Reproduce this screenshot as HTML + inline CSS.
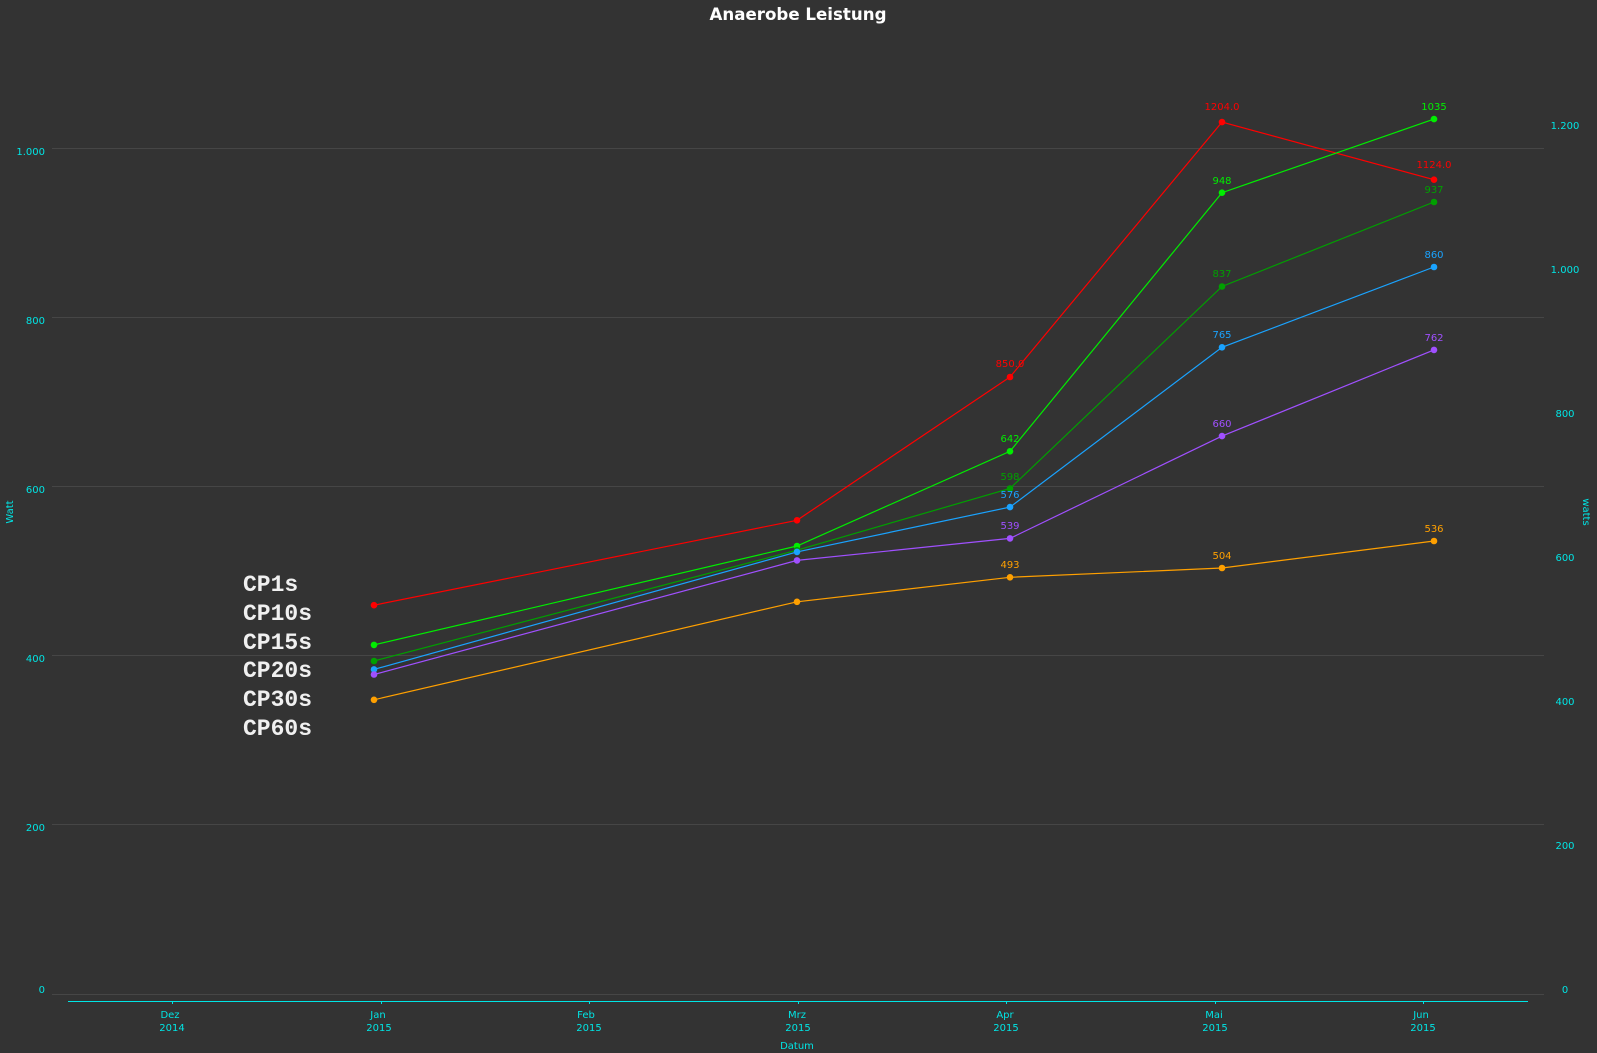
<!DOCTYPE html>
<html><head><meta charset="utf-8"><style>
html,body{margin:0;padding:0;background:#333333;}
svg{display:block;}
</style></head><body>
<svg width="1597" height="1053" viewBox="0 0 1597 1053" xmlns="http://www.w3.org/2000/svg" font-family="'DejaVu Sans', 'Liberation Sans', sans-serif">
<rect width="1597" height="1053" fill="#333333"/>
<text x="798" y="20" text-anchor="middle" fill="#ffffff" font-weight="bold" font-size="17" textLength="177" lengthAdjust="spacingAndGlyphs">Anaerobe Leistung</text>
<g stroke="#464646" stroke-width="1">
<line x1="52" y1="148.5" x2="1544" y2="148.5"/>
<line x1="52" y1="317.5" x2="1544" y2="317.5"/>
<line x1="52" y1="486.5" x2="1544" y2="486.5"/>
<line x1="52" y1="655.5" x2="1544" y2="655.5"/>
<line x1="52" y1="824.5" x2="1544" y2="824.5"/>
<line x1="52" y1="994.5" x2="1544" y2="994.5"/>
</g>
<g fill="#00e5e5" font-size="10" text-anchor="end">
<text x="45" y="155">1.000</text>
<text x="45" y="324">800</text>
<text x="45" y="493">600</text>
<text x="45" y="662">400</text>
<text x="45" y="831">200</text>
<text x="45" y="993">0</text>
</g>
<g fill="#00e5e5" font-size="10" text-anchor="middle">
<text x="1565" y="129">1.200</text>
<text x="1565" y="273">1.000</text>
<text x="1565" y="417">800</text>
<text x="1565" y="561">600</text>
<text x="1565" y="705">400</text>
<text x="1565" y="849">200</text>
<text x="1565" y="993">0</text>
</g>
<text transform="translate(13,512) rotate(-90)" fill="#00e5e5" font-size="10" text-anchor="middle">Watt</text>
<text transform="translate(1583,512) rotate(90)" fill="#00e5e5" font-size="10" text-anchor="middle">watts</text>
<line x1="68" y1="1001.5" x2="1528" y2="1001.5" stroke="#00e5e5" stroke-width="1"/>
<g stroke="#00e5e5">
<line x1="172.5" y1="1001" x2="172.5" y2="1004"/>
<line x1="381.5" y1="1001" x2="381.5" y2="1004"/>
<line x1="589.5" y1="1001" x2="589.5" y2="1004"/>
<line x1="798.5" y1="1001" x2="798.5" y2="1004"/>
<line x1="1006.5" y1="1001" x2="1006.5" y2="1004"/>
<line x1="1215.5" y1="1001" x2="1215.5" y2="1004"/>
<line x1="1423.5" y1="1001" x2="1423.5" y2="1004"/>
</g>
<g fill="#00e5e5" font-size="10" text-anchor="middle">
<text x="170" y="1018">Dez</text><text x="172" y="1031">2014</text>
<text x="378" y="1018">Jan</text><text x="379" y="1031">2015</text>
<text x="586" y="1018">Feb</text><text x="589" y="1031">2015</text>
<text x="797" y="1018">Mrz</text><text x="798" y="1031">2015</text>
<text x="1005" y="1018">Apr</text><text x="1006" y="1031">2015</text>
<text x="1214" y="1018">Mai</text><text x="1215" y="1031">2015</text>
<text x="1421" y="1018">Jun</text><text x="1423" y="1031">2015</text>
<text x="797" y="1049">Datum</text>
</g>
<g fill="none" stroke-width="1.2">
<polyline stroke="#ff0000" points="374,605.2 797,520.3 1010,377 1222,122.1 1434,179.7"/>
<polyline stroke="#00ee00" points="374,644.9 797,546 1010,451.3 1222,192.7 1434,119.1"/>
<polyline stroke="#00a000" points="374,661 797,550.2 1010,488.5 1222,286.5 1434,202"/>
<polyline stroke="#1aa3ff" points="374,669.4 797,551.9 1010,507.1 1222,347.3 1434,267"/>
<polyline stroke="#a050ff" points="374,674.5 797,560.4 1010,538.4 1222,436.1 1434,349.9"/>
<polyline stroke="#ffa000" points="374,699.8 797,601.8 1010,577.3 1222,568 1434,541"/>
</g>
<g fill="#ff0000"><circle cx="374" cy="605.2" r="3.3"/><circle cx="797" cy="520.3" r="3.3"/><circle cx="1010" cy="377" r="3.3"/><circle cx="1222" cy="122.1" r="3.3"/><circle cx="1434" cy="179.7" r="3.3"/></g>
<g fill="#00ee00"><circle cx="374" cy="644.9" r="3.3"/><circle cx="797" cy="546" r="3.3"/><circle cx="1010" cy="451.3" r="3.3"/><circle cx="1222" cy="192.7" r="3.3"/><circle cx="1434" cy="119.1" r="3.3"/></g>
<g fill="#00a000"><circle cx="374" cy="661" r="3.3"/><circle cx="797" cy="550.2" r="3.3"/><circle cx="1010" cy="488.5" r="3.3"/><circle cx="1222" cy="286.5" r="3.3"/><circle cx="1434" cy="202" r="3.3"/></g>
<g fill="#1aa3ff"><circle cx="374" cy="669.4" r="3.3"/><circle cx="797" cy="551.9" r="3.3"/><circle cx="1010" cy="507.1" r="3.3"/><circle cx="1222" cy="347.3" r="3.3"/><circle cx="1434" cy="267" r="3.3"/></g>
<g fill="#a050ff"><circle cx="374" cy="674.5" r="3.3"/><circle cx="797" cy="560.4" r="3.3"/><circle cx="1010" cy="538.4" r="3.3"/><circle cx="1222" cy="436.1" r="3.3"/><circle cx="1434" cy="349.9" r="3.3"/></g>
<g fill="#ffa000"><circle cx="374" cy="699.8" r="3.3"/><circle cx="797" cy="601.8" r="3.3"/><circle cx="1010" cy="577.3" r="3.3"/><circle cx="1222" cy="568" r="3.3"/><circle cx="1434" cy="541" r="3.3"/></g>
<g font-size="10" text-anchor="middle">
<text fill="#ff0000" x="1010" y="367">850.0</text>
<text fill="#ff0000" x="1222" y="110">1204.0</text>
<text fill="#ff0000" x="1434" y="168">1124.0</text>
<text fill="#00ee00" x="1010" y="442">642</text>
<text fill="#00ee00" x="1222" y="184">948</text>
<text fill="#00ee00" x="1434" y="110">1035</text>
<text fill="#00a000" x="1010" y="480">598</text>
<text fill="#00a000" x="1222" y="277">837</text>
<text fill="#00a000" x="1434" y="193">937</text>
<text fill="#1aa3ff" x="1010" y="498">576</text>
<text fill="#1aa3ff" x="1222" y="338">765</text>
<text fill="#1aa3ff" x="1434" y="258">860</text>
<text fill="#a050ff" x="1010" y="529">539</text>
<text fill="#a050ff" x="1222" y="427">660</text>
<text fill="#a050ff" x="1434" y="341">762</text>
<text fill="#ffa000" x="1010" y="568">493</text>
<text fill="#ffa000" x="1222" y="559">504</text>
<text fill="#ffa000" x="1434" y="532">536</text>
</g>
<g fill="#f0f0f0" font-family="'Liberation Mono', monospace" font-weight="bold" font-size="23">
<text x="243" y="591">CP1s</text>
<text x="243" y="620">CP10s</text>
<text x="243" y="649">CP15s</text>
<text x="243" y="677">CP20s</text>
<text x="243" y="706">CP30s</text>
<text x="243" y="735">CP60s</text>
</g>
</svg>
</body></html>
